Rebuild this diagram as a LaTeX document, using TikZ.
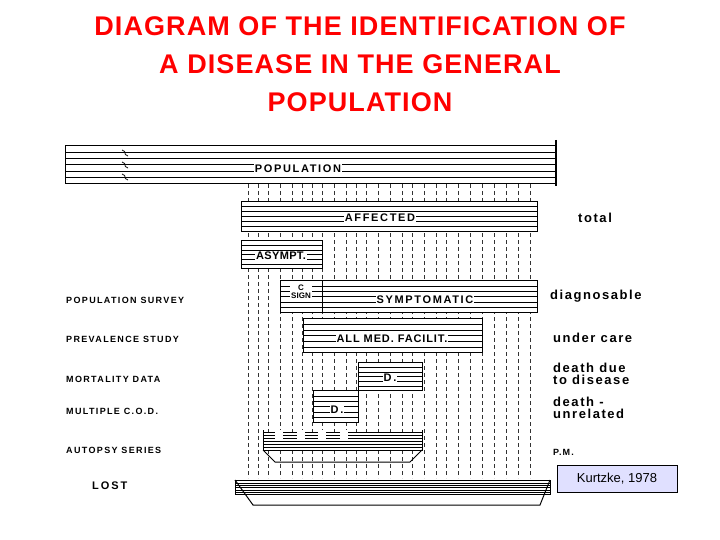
\documentclass[tikz,border=0pt]{standalone}
\usepackage{fontspec}
\setmainfont{Liberation Sans}
\usetikzlibrary{calc}
\begin{document}
\begin{tikzpicture}[x=1pt,y=-1pt,
  bar/.style={draw,line width=1pt,fill=white,inner sep=0pt,anchor=north west,
    path picture={\foreach \i in {1,...,5}{\draw[line width=0.4pt]
      ($(path picture bounding box.north west)!\i/6!(path picture bounding box.south west)$) --
      ($(path picture bounding box.north east)!\i/6!(path picture bounding box.south east)$);}}},
  lab/.style={fill=white,inner sep=1pt,font=\fontsize{11}{11}\selectfont\bfseries\addfontfeature{LetterSpace=15}},
  side/.style={anchor=west,font=\fontsize{9}{9}\selectfont\bfseries\addfontfeature{LetterSpace=15},align=left,inner sep=0pt},
  right/.style={anchor=west,font=\fontsize{13}{12}\selectfont\bfseries\addfontfeature{LetterSpace=12},align=left,inner sep=0pt},
  vline/.style={dash pattern=on 4pt off 3pt,line width=0.7pt,black!80}]
\useasboundingbox (0,0) rectangle (720,540);
% title
\node[font=\fontsize{27}{38}\selectfont\bfseries\addfontfeature{LetterSpace=4},text=red,align=center] (title) at (360,64)
  {DIAGRAM OF THE IDENTIFICATION OF\\A DISEASE IN THE GENERAL\\POPULATION};
% dashed verticals
\foreach \x in {248,258,268,280,292,302,312,322,334,346,356,366,378,390,402,412,424,436,446,458,470,482,494,506,518,530}
  \draw[vline] (\x,184) -- (\x,478);
% bars
\node[bar,minimum width=491,minimum height=38] (pop) at (65,145) {};
\draw[line width=1.2pt] (556,140) -- (556,186);
\foreach \y in {150,162,174}
  \draw[line width=0.8pt] (122,\y) .. controls (128,\y+2) and (122,\y+4) .. (128,\y+6);
\node[lab] (popl) at (298,169) {POPULATION};
\node[bar,minimum width=296,minimum height=30] (aff) at (241,201) {};
\node[lab] (affl) at (380,218) {AFFECTED};
\node[bar,minimum width=81,minimum height=28] (asy) at (241,240) {};
\node[lab,font=\fontsize{11}{11}\selectfont\bfseries\addfontfeature{LetterSpace=3}] (asyl) at (281,256) {ASYMPT.};
\node[bar,minimum width=42,minimum height=32] (csign) at (280,280) {};
\node[lab,font=\fontsize{8}{8}\selectfont\bfseries,align=center] (csignl) at (301,292) {C\\SIGN};
\node[bar,minimum width=215,minimum height=32] (sym) at (322,280) {};
\node[lab] (syml) at (425,300) {SYMPTOMATIC};
\node[bar,minimum width=179,minimum height=34] (med) at (303,318) {};
\node[lab,font=\fontsize{11}{11}\selectfont\bfseries\addfontfeature{LetterSpace=8}] (medl) at (392,339) {ALL MED. FACILIT.};
\node[bar,minimum width=64,minimum height=28] (d1) at (358,362) {};
\node[lab] (d1l) at (390,378) {D.};
\node[bar,minimum width=45,minimum height=32] (d2) at (313,390) {};
\node[lab] (d2l) at (337,410) {D.};
% autopsy tray
\node[bar,minimum width=159,minimum height=18] (aut) at (263,432) {};
\foreach \x in {275,297,318,340} \fill[white] (\x,430) rectangle (\x+8,441);
\draw[line width=1pt] (263,430) -- (263,450) -- (422,450) -- (422,430);
\draw[line width=1pt] (263,450) -- (275,462) -- (410,462) -- (422,450);
% lost tray
\node[bar,minimum width=315,minimum height=14] (lost) at (235,480) {};
\draw[line width=1pt] (235,480) -- (253,505) -- (540,505) -- (550,480);
% left labels
\node[side] (s1) at (66,300) {POPULATION SURVEY};
\node[side] (s2) at (66,339) {PREVALENCE STUDY};
\node[side] (s3) at (66,379) {MORTALITY DATA};
\node[side] (s4) at (66,411) {MULTIPLE C.O.D.};
\node[side] (s5) at (66,450) {AUTOPSY SERIES};
\node[side,font=\fontsize{11}{11}\selectfont\bfseries\addfontfeature{LetterSpace=18}] (s6) at (92,486) {LOST};
% right labels
\node[right] (r1) at (578,218) {total};
\node[right] (r2) at (550,296) {diagnosable};
\node[right] (r3) at (553,338) {under care};
\node[right] (r4) at (553,374) {death due\\to disease};
\node[right] (r5) at (553,408) {death -\\unrelated};
\node[right,font=\fontsize{9}{9}\selectfont\bfseries\addfontfeature{LetterSpace=12}] (r6) at (553,452) {P.M.};
\node[draw,fill=blue!12,minimum width=120,minimum height=27,font=\fontsize{13}{13}\selectfont] (k) at (617,479) {Kurtzke, 1978};
\end{tikzpicture}
\end{document}
